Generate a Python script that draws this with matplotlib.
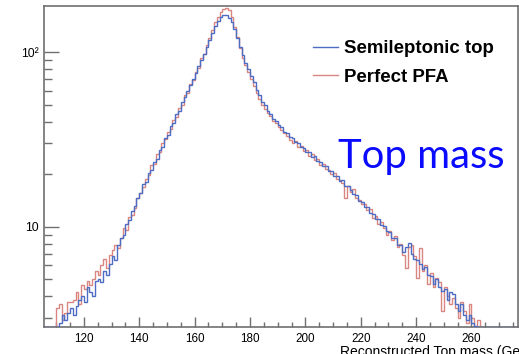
import numpy as np
import matplotlib
matplotlib.use("Agg")
import matplotlib.pyplot as plt
from matplotlib.lines import Line2D
from matplotlib.ticker import FixedLocator, NullFormatter

# ---- data (1 GeV bins, lower edges 105 ... 276) ----
bin_lo = 105
bin_hi = 277

semileptonic_top = [
    0, 0, 0, 0, 0,
    0, 2.8, 3.1, 2.9, 3.2, 3.4, 3.1, 3.5, 3.8, 4.0,
    3.7, 4.5, 4.2, 4.0, 4.9, 5.0, 4.8, 5.6, 5.3, 6.1,
    6.8, 6.4, 7.9, 8.6, 9.0, 10.4, 10.9, 12.3, 13.2, 14.6,
    15.5, 17.6, 18.0, 20.4, 21.0, 23.6, 24.3, 27.6, 28.7, 32.2,
    33.4, 37.5, 39.2, 44.2, 46.0, 51.5, 55.0, 60.0, 64.8, 70.5,
    75.5, 83.0, 90.0, 98.0, 107, 118, 129, 142, 151, 159,
    164, 163, 157, 148, 135, 121, 107, 96, 87, 80,
    73, 67, 60.5, 56.5, 51.5, 49.5, 46.0, 44.2, 41.5, 40.2,
    38.0, 37.3, 35.0, 34.2, 32.5, 32.0, 30.6, 30.3, 28.7, 28.2,
    26.8, 26.9, 25.2, 25.3, 23.8, 23.5, 22.2, 22.3, 20.8, 20.7,
    19.5, 19.4, 18.3, 18.4, 17.2, 17.0, 16.3, 15.3, 15.2, 14.0,
    13.9, 13.0, 12.9, 12.0, 11.8, 11.0, 11.0, 10.2, 10.1, 9.4,
    9.3, 8.6, 8.6, 7.9, 7.8, 7.2, 7.6, 8.1, 7.0, 6.5,
    6.4, 6.1, 5.7, 5.9, 5.3, 5.2, 4.7, 5.0, 4.5, 4.3,
    4.4, 3.8, 4.2, 4.1, 3.6, 3.3, 3.6, 3.1, 2.9, 3.1,
    2.8, 2.7, 0, 0, 0, 0, 0, 0, 0, 0,
    0, 0, 0, 0, 0, 0, 0,
]

perfect_pfa = [
    0, 0, 0, 0, 0,
    3.4, 3.6, 2.9, 3.2, 3.7, 3.7, 3.8, 4.2, 3.6, 4.6,
    4.4, 4.9, 4.6, 5.0, 5.6, 5.3, 6.0, 6.5, 5.8, 6.9,
    7.3, 7.8, 7.5, 8.6, 9.8, 9.6, 11.4, 11.6, 12.8, 14.5,
    15.5, 16.8, 18.8, 19.8, 22.6, 22.8, 26.2, 26.8, 30.0, 31.6,
    35.0, 36.5, 41.0, 42.5, 48.0, 49.6, 56.5, 58.6, 65.5, 69.0,
    77.0, 81.5, 92.0, 98.0, 110, 120, 134, 148, 160, 170,
    176, 180, 175, 160, 140, 122, 105, 93, 84, 77,
    70, 64, 58.5, 54.0, 50.0, 47.0, 44.5, 43.0, 40.5, 39.5,
    37.0, 36.0, 34.5, 33.0, 31.5, 30.0, 31.0, 28.5, 29.0, 27.0,
    27.5, 25.5, 26.0, 24.0, 24.5, 22.5, 23.0, 21.5, 21.0, 20.0,
    20.2, 18.8, 18.6, 17.8, 14.5, 17.0, 15.8, 16.5, 14.6, 14.2,
    13.4, 13.5, 12.4, 12.6, 11.2, 11.5, 10.4, 10.6, 9.8, 9.0,
    9.5, 8.4, 8.8, 7.6, 8.0, 6.9, 5.8, 7.6, 7.8, 6.8,
    5.1, 7.5, 5.6, 6.0, 4.7, 5.4, 4.5, 5.1, 4.8, 3.3,
    4.5, 4.0, 3.6, 3.9, 3.4, 3.0, 3.7, 3.3, 2.8, 3.6,
    3.0, 2.6, 2.9, 0, 0, 0, 0, 0, 0, 0,
    0, 0, 0, 0, 0, 0, 0,
]

series_labels = ["Semileptonic top", "Perfect PFA"]
x_major_ticks = [120, 140, 160, 180, 200, 220, 240, 260]
y_major_ticks = [10, 100]
y_tick_labels = ["10", "10\u00b2"]
x_label = "Reconstructed Top mass (GeV)"
annotation = "Top mass"

# ---- figure ----
W, H = 519, 354
fig = plt.figure(figsize=(W / 100, H / 100), dpi=100)
plt.rcParams["font.family"] = ["Liberation Sans", "DejaVu Sans"]

left, right, top, bottom = 44, 518, 5.5, 327
ax = fig.add_axes([left / W, 1 - bottom / H, (right - left) / W, (bottom - top) / H])

xmin, xmax = 105.6, 276.8
ymin, ymax = 2.66, 185

edges = np.arange(bin_lo, bin_hi + 1)
blue = np.maximum(np.array(semileptonic_top, dtype=float), ymin)
red = np.maximum(np.array(perfect_pfa, dtype=float), ymin)

c_blue = "#4d6dc4"
c_red = "#d98580"
ax.stairs(blue, edges, baseline=None, color=c_blue, lw=1.0, zorder=3)
ax.stairs(red, edges, baseline=None, color=c_red, lw=1.0, zorder=2)

ax.set_yscale("log")
ax.set_xlim(xmin, xmax)
ax.set_ylim(ymin, ymax)

frame_c = "#707070"
for s in ax.spines.values():
    s.set_color(frame_c)
    s.set_linewidth(1.2)

ax.xaxis.set_major_locator(FixedLocator(x_major_ticks))
ax.xaxis.set_minor_locator(FixedLocator(np.arange(110, 276, 5)))
ax.xaxis.set_minor_formatter(NullFormatter())
ax.yaxis.set_major_locator(FixedLocator(y_major_ticks))
ax.set_yticklabels(y_tick_labels)
ax.yaxis.set_minor_locator(FixedLocator([3, 4, 5, 6, 7, 8, 9, 20, 30, 40, 50, 60, 70, 80, 90]))
ax.yaxis.set_minor_formatter(NullFormatter())

ax.tick_params(axis="x", which="major", direction="in", length=7, width=1.0,
               color=frame_c, labelsize=8.4, pad=4)
ax.tick_params(axis="x", which="minor", direction="in", length=3.5, width=1.0, color=frame_c)
ax.tick_params(axis="y", which="major", direction="in", length=11, width=1.0,
               color=frame_c, labelsize=8.8, pad=4)
ax.tick_params(axis="y", which="minor", direction="in", length=5.5, width=1.0, color=frame_c)


def fx(px):
    return px / W


def fy(py):
    return 1 - py / H


# legend (manual)
fig.add_artist(Line2D([fx(313), fx(338)], [fy(46.7), fy(46.7)], color=c_blue, lw=1.0))
fig.add_artist(Line2D([fx(313), fx(338)], [fy(75), fy(75)], color=c_red, lw=1.0))
fig.text(fx(344), fy(53), series_labels[0], fontsize=13.4, fontweight="bold",
         va="baseline", ha="left", color="black")
fig.text(fx(344), fy(81.5), series_labels[1], fontsize=13.4, fontweight="bold",
         va="baseline", ha="left", color="black")

# annotation
fig.text(fx(338), fy(168), annotation, fontsize=28.8, family=["Lato", "DejaVu Sans"],
         color="#0a0aff", va="baseline", ha="left")

# x label (cut off at bottom edge as in reference)
fig.text(fx(340), fy(356), x_label, fontsize=10, va="baseline", ha="left", color="black")

fig.savefig("out.png", dpi=100)
